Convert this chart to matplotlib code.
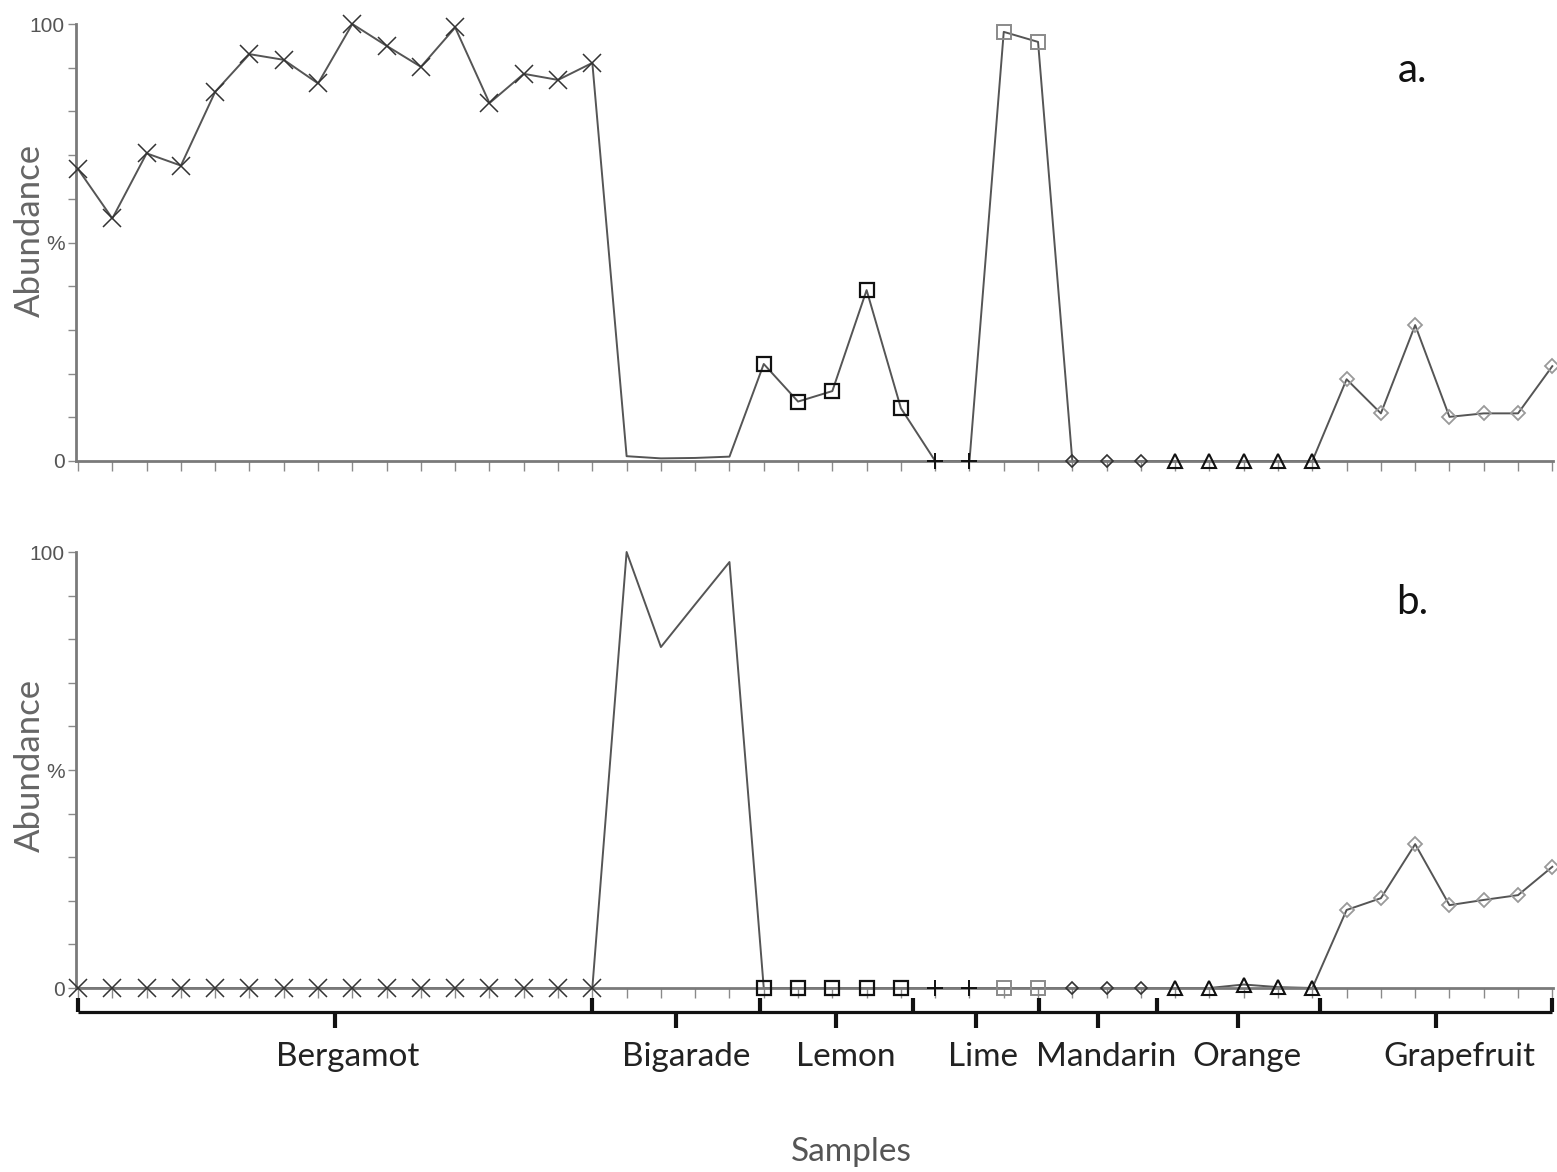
import matplotlib
matplotlib.use("Agg")
import matplotlib.pyplot as plt
import numpy as np
from matplotlib.transforms import blended_transform_factory

# ---------------- data ----------------
groups = ["Bergamot", "Bigarade", "Lemon", "Lime", "Mandarin", "Orange", "Grapefruit"]
group_sizes = [16, 4, 5, 4, 3, 5, 7]

# panel a
a_bergamot = [66.8, 55.5, 70.4, 67.6, 84.5, 93.1, 91.8, 86.4, 100.0, 95.0, 90.2, 99.2, 81.9, 88.6, 87.2, 91.1]
a_bigarade = [1.1, 0.6, 0.7, 1.0]
a_lemon = [22.2, 13.6, 16.0, 39.1, 12.1]
a_lime = [0.0, 0.0, 98.2, 95.9]
a_mandarin = [0.0, 0.0, 0.0]
a_orange = [0.0, 0.0, 0.0, 0.0, 0.0]
a_grapefruit = [18.7, 10.9, 31.1, 10.1, 10.9, 10.9, 21.7]

# panel b
b_bergamot = [0.0] * 16
b_bigarade = [100.0, 78.2, 88.0, 97.7]
b_lemon = [0.0, 0.0, 0.0, 0.0, 0.0]
b_lime = [0.0, 0.0, 0.0, 0.0]
b_mandarin = [0.0, 0.0, 0.0]
b_orange = [0.0, 0.0, 0.8, 0.2, 0.0]
b_grapefruit = [17.9, 20.6, 33.0, 19.0, 20.2, 21.3, 27.8]

panel_a = a_bergamot + a_bigarade + a_lemon + a_lime + a_mandarin + a_orange + a_grapefruit
panel_b = b_bergamot + b_bigarade + b_lemon + b_lime + b_mandarin + b_orange + b_grapefruit

# group bracket boundaries and label positions (sample-index units)
bracket_edges = [0, 15, 19.88, 24.34, 28.04, 31.46, 36.21, 43]
label_x = [7.85, 17.75, 22.4, 26.4, 30.0, 34.1, 40.3]

# marker runs: (first sample, count, style key)
marker_runs = [(0, 16, "x"), (20, 5, "sq"), (25, 2, "plus"), (27, 2, "sqgray"),
               (29, 3, "dia"), (32, 5, "tri"), (37, 7, "diagray")]

styles = {
    "x": dict(marker="x", ms=12.5, mec="#333333", mew=1.1, mfc="none"),
    "sq": dict(marker="s", ms=10, mec="#111111", mew=1.6, mfc="none"),
    "plus": dict(marker="+", ms=12, mec="#111111", mew=1.4, mfc="none"),
    "sqgray": dict(marker="s", ms=10.5, mec="#8a8a8a", mew=1.4, mfc="none"),
    "dia": dict(marker="D", ms=6.5, mec="#333333", mew=1.2, mfc="none"),
    "tri": dict(marker="^", ms=9.5, mec="#111111", mew=1.5, mfc="none"),
    "diagray": dict(marker="D", ms=7, mec="#9a9a9a", mew=1.3, mfc="none"),
}

n = sum(group_sizes)
xs = np.arange(n)

W, H = 1557, 1172
fig = plt.figure(figsize=(W / 100, H / 100), dpi=100)

def fx(px):
    return px / W

def fy(py):
    return 1 - py / H

ax_left = fx(76)
ax_w = fx(1553) - fx(76)
ax_a = fig.add_axes([ax_left, fy(461), ax_w, fy(24) - fy(461)])
ax_b = fig.add_axes([ax_left, fy(988), ax_w, fy(552) - fy(988)])

label_font = "Lato"
spine_col = "#7a7a7a"

for ax, vals, tag in [(ax_a, panel_a, "a."), (ax_b, panel_b, "b.")]:
    ax.plot(xs, vals, color="#555555", lw=1.4, zorder=2, clip_on=False)
    for start, cnt, key in marker_runs:
        ax.plot(xs[start:start + cnt], vals[start:start + cnt], ls="none",
                zorder=3, clip_on=False, **styles[key])
    ax.set_xlim(-0.06, 43.02)
    ax.set_ylim(0, 100)
    for s in ["top", "right"]:
        ax.spines[s].set_visible(False)
    for s in ["left", "bottom"]:
        ax.spines[s].set_color(spine_col)
        ax.spines[s].set_linewidth(2.0)
    ax.set_xticks(xs)
    ax.set_xticklabels([])
    ax.tick_params(axis="x", direction="out", length=7, width=1.0, color="#8a8a8a")
    ax.set_yticks([0, 50, 100])
    ax.set_yticklabels(["0", "%", "100"], fontfamily="Liberation Sans")
    ax.set_yticks([10, 20, 30, 40, 60, 70, 80, 90], minor=True)
    ax.tick_params(axis="y", which="both", direction="out", length=6, width=1.0,
                   color="#8a8a8a", labelsize=15, labelcolor="#555555", pad=2)
    ax.text(0.905, 0.893 if tag == "a." else 0.885, tag, transform=ax.transAxes,
            fontsize=29, fontfamily=label_font, color="#111111", ha="center", va="center")

# y labels
fig.text(fx(30), fy(230), "Abundance", rotation=90, ha="center", va="center",
         fontsize=25, fontfamily=label_font, color="#666666")
fig.text(fx(30), fy(765), "Abundance", rotation=90, ha="center", va="center",
         fontsize=25, fontfamily=label_font, color="#666666")

# group bracket under panel b
tr = blended_transform_factory(ax_b.transData, ax_b.transAxes)
yb = -0.0544
ax_b.plot([bracket_edges[0], bracket_edges[-1]], [yb, yb], transform=tr,
          color="#111111", lw=2.3, clip_on=False, solid_capstyle="butt")
for e in bracket_edges:
    ax_b.plot([e, e], [yb, -0.023], transform=tr, color="#111111", lw=3,
              clip_on=False, solid_capstyle="butt")
for i in range(len(groups)):
    c = 0.5 * (bracket_edges[i] + bracket_edges[i + 1])
    ax_b.plot([c, c], [yb, -0.092], transform=tr, color="#111111", lw=3,
              clip_on=False, solid_capstyle="butt")
for g, lx in zip(groups, label_x):
    ax_b.text(lx, -0.158, g, transform=tr, ha="center", va="center",
              fontsize=24, fontfamily=label_font, color="#222222")

fig.text(fx(851), fy(1152), "Samples", ha="center", va="center",
         fontsize=24, fontfamily=label_font, color="#555555")

fig.savefig("out.png", dpi=100, facecolor="white")
